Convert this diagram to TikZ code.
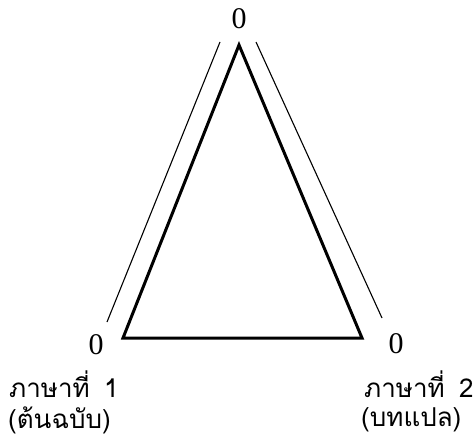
\documentclass[tikz,border=0pt]{standalone}
\usepackage{fontspec}
\newfontfamily\thaifont[Script=Thai]{Loma}
\newfontfamily\zerofont{Liberation Serif}
\begin{document}
\begin{tikzpicture}[x=1pt,y=-1pt,
  thick edge/.style={line width=3pt, line join=miter},
  thin edge/.style={line width=1.1pt},
  zero/.style={font=\zerofont\fontsize{30}{32}\selectfont, inner sep=0pt},
  thai/.style={font=\thaifont\fontsize{26}{28}\selectfont, inner sep=0pt, anchor=west}]
\useasboundingbox (0,0) rectangle (473,444);
\coordinate (A) at (239,45);
\coordinate (B) at (123,338);
\coordinate (C) at (362,338);
\draw[thick edge] (A) -- (B) -- (C) -- cycle;
\coordinate (l1) at (220,42);
\coordinate (l2) at (107,322);
\coordinate (r1) at (256,42);
\coordinate (r2) at (382,318);
\draw[thin edge] (l1) -- (l2);
\draw[thin edge] (r1) -- (r2);
\node[zero] (za) at (239,19) {0};
\node[zero] (zb) at (96,345) {0};
\node[zero] (zc) at (396,344) {0};
\node[thai] (t1) at (9,384) {ภาษาที่\hspace{0.55em}1};
\node[thai] (t2) at (8,420) {(ต้นฉบับ)};
\node[thai] (t3) at (364,384) {ภาษาที่\hspace{0.55em}2};
\node[thai] (t4) at (361,420) {(บทแปล)};
\end{tikzpicture}
\end{document}
